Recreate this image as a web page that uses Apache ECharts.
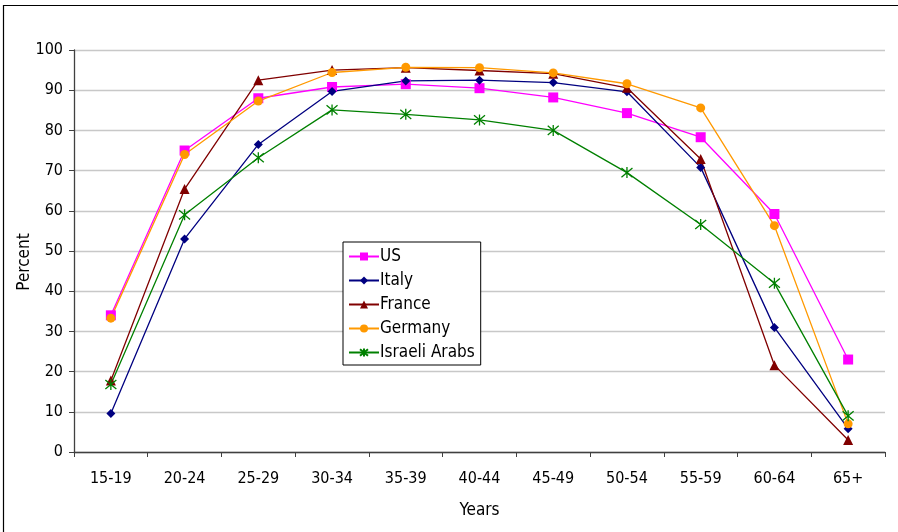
<!DOCTYPE html>
<html><head><meta charset="utf-8">
<script src="https://cdn.jsdelivr.net/npm/echarts@6/dist/echarts.min.js"></script>
<style>html,body{margin:0;padding:0;background:#fff}#c{width:898px;height:532px}</style>
</head><body><div id="c"></div>
<script>
const categories = ['15-19','20-24','25-29','30-34','35-39','40-44','45-49','50-54','55-59','60-64','65+'];
const us      = [34, 75, 88, 90.8, 91.5, 90.5, 88.2, 84.3, 78.3, 59.2, 23];
const italy   = [9.6, 53, 76.5, 89.7, 92.3, 92.5, 91.9, 89.6, 70.8, 31, 5.8];
const france  = [17.8, 65.4, 92.5, 95, 95.6, 94.9, 94.1, 90.6, 72.9, 21.6, 3];
const germany = [33.3, 74, 87.3, 94.4, 95.7, 95.6, 94.3, 91.6, 85.6, 56.3, 7];
const arabs   = [16.8, 59, 73.2, 85.1, 84, 82.6, 80, 69.5, 56.6, 42, 9];
const yTicks  = [0,10,20,30,40,50,60,70,80,90,100];
const yTitle  = 'Percent';
const xTitle  = 'Years';

const FONT = '"Liberation Sans Narrow", "DejaVu Sans Condensed", "Open Sans", sans-serif';
const chart = echarts.init(document.getElementById('c'));
const asterisk = 'path://M0,0L10,10M10,0L0,10M5,-1L5,11';
function s(name, data, color, symbol, size, extra) {
  return Object.assign({
    name, type: 'line', data, symbol, symbolSize: size,
    lineStyle: {color, width: 1.3},
    itemStyle: {color},
    emphasis: {disabled: true}, animation: false
  }, extra || {});
}
chart.setOption({
  animation: false,
  graphic: [
    {type: 'rect', shape: {x: 3.5, y: 5.5, width: 900, height: 540}, style: {fill: 'none', stroke: '#000', lineWidth: 1.2}, silent: true},
    {type: 'text', x: 25, y: 262, rotation: Math.PI / 2, style: {text: yTitle, font: '17px ' + FONT, fill: '#000', align: 'center', verticalAlign: 'middle'}, silent: true}
  ],
  grid: {left: 74, right: 13, top: 50, bottom: 80},
  legend: {
    orient: 'vertical', left: 343, top: 242,
    backgroundColor: '#fff', borderColor: '#000', borderWidth: 1,
    padding: [6, 6, 4, 5], itemGap: 7, itemWidth: 30, itemHeight: 10,
    textStyle: {fontFamily: FONT, fontSize: 17, color: '#000', padding: [0,0,0,-4]},
    data: ['US','Italy','France','Germany','Israeli Arabs']
  },
  xAxis: {
    type: 'category', data: categories, boundaryGap: true,
    name: xTitle, nameLocation: 'middle', nameGap: 50,
    nameTextStyle: {fontFamily: FONT, fontSize: 17, color: '#000'},
    axisLine: {lineStyle: {color: '#404040', width: 1.3}},
    axisTick: {show: true, length: 5, lineStyle: {color: '#404040'}, alignWithLabel: false},
    axisLabel: {fontFamily: FONT, fontSize: 16, color: '#000', margin: 19, interval: 0},
    splitLine: {show: false}
  },
  yAxis: {
    type: 'value', min: yTicks[0], max: yTicks[yTicks.length-1], interval: 10,
    axisLine: {show: true, lineStyle: {color: '#404040', width: 1.3}},
    axisTick: {show: true, length: 5, lineStyle: {color: '#404040'}},
    axisLabel: {fontFamily: FONT, fontSize: 16, color: '#000', margin: 11},
    splitLine: {lineStyle: {color: '#c8c8c8', width: 1.3}}
  },
  series: [
    s('US', us, '#ff00ff', 'rect', 10),
    s('Italy', italy, '#000080', 'diamond', 9),
    s('France', france, '#800000', 'triangle', 10),
    s('Germany', germany, '#ff9900', 'circle', 9),
    s('Israeli Arabs', arabs, '#008000', asterisk, 11, {itemStyle: {color: '#008000', borderColor: '#008000', borderWidth: 1.3}})
  ]
});
</script></body></html>
